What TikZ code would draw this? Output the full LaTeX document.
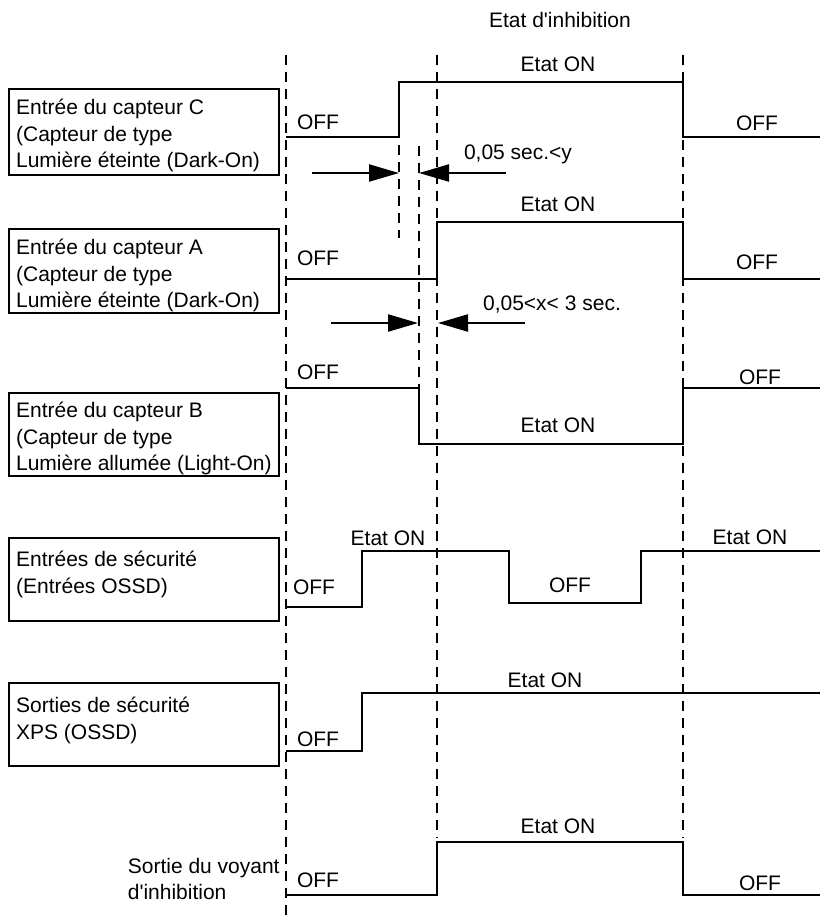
\documentclass[tikz,border=0pt]{standalone}
\usepackage{fontspec}
\setmainfont{Liberation Sans}[Ligatures=TeXOff]
\usetikzlibrary{arrows.meta}

\begin{document}
\begin{tikzpicture}[x=0.5pt,y=-0.5pt,
  every node/.style={font=\fontsize{10.5}{13.3}\selectfont,inner sep=0pt},
  sig/.style={line width=1.3pt,line join=miter},
  phase/.style={line width=1.3pt,dash pattern=on 5pt off 3.5pt},
  inbox/.style={draw,line width=1.3pt,rectangle,minimum width=135pt},
  boxtext/.style={align=left,anchor=north west},
  lbl/.style={text depth=0pt},
  gap/.style={line width=1.1pt,-{Triangle[length=15pt,width=8.5pt]}}]
\useasboundingbox (0,0) rectangle (820,918);
% phase limits
\draw[phase] (286,55) -- (286,918);
\draw[phase] (437,55) -- (437,838);
\draw[phase] (683,55) -- (683,838);
\draw[phase] (399,145) -- (399,238);
\draw[phase] (419,146) -- (419,388);
\node[lbl] (title) at (560,20) {Etat d'inhibition};
% sensor C
\node[inbox,minimum height=43pt] (boxC) at (144,132) {};
\node[boxtext] (txtC) at ([shift={(4pt,-5.5pt)}]boxC.north west) {Entrée du capteur C\\(Capteur de type\\Lumière éteinte (Dark-On)};
\draw[sig] (286,137) -- (399,137) -- (399,82) -- (683,82) -- (683,137) -- (820,137);
\node[lbl] (offC1) at (318,122) {OFF};
\node[lbl] (onC) at (558,64) {Etat ON};
\node[lbl] (offC2) at (757,123) {OFF};
\coordinate (yL) at (312,173); \coordinate (yLt) at (399,173);
\coordinate (yR) at (506,173); \coordinate (yRt) at (419,173);
\draw[gap] (yL) -- (yLt);
\draw[gap] (yR) -- (yRt);
\node[lbl] (ylbl) at (518,152) {0,05 sec.<y};
% sensor A
\node[inbox,minimum height=42pt] (boxA) at (144,271) {};
\node[boxtext] (txtA) at ([shift={(4pt,-5.5pt)}]boxA.north west) {Entrée du capteur A\\(Capteur de type\\Lumière éteinte (Dark-On)};
\draw[sig] (286,279) -- (437,279) -- (437,222) -- (683,222) -- (683,279) -- (820,279);
\node[lbl] (offA1) at (318,258) {OFF};
\node[lbl] (onA) at (558,204) {Etat ON};
\node[lbl] (offA2) at (757,262) {OFF};
\coordinate (xL) at (331,323); \coordinate (xLt) at (418,323);
\coordinate (xR) at (525,323); \coordinate (xRt) at (438,323);
\draw[gap] (xL) -- (xLt);
\draw[gap] (xR) -- (xRt);
\node[lbl] (xlbl) at (552,303) {0,05<x< 3 sec.};
% sensor B
\node[inbox,minimum height=41.5pt] (boxB) at (144,434.5) {};
\node[boxtext] (txtB) at ([shift={(4pt,-5pt)}]boxB.north west) {Entrée du capteur B\\(Capteur de type\\Lumière allumée (Light-On)};
\draw[sig] (286,388) -- (419,388) -- (419,444) -- (683,444) -- (683,388) -- (820,388);
\node[lbl] (offB1) at (318,372) {OFF};
\node[lbl] (onB) at (558,425) {Etat ON};
\node[lbl] (offB2) at (760,377) {OFF};
% safety inputs
\node[inbox,minimum height=41.5pt] (boxS) at (144,579.5) {};
\node[boxtext] (txtS) at ([shift={(4pt,-7pt)}]boxS.north west) {Entrées de sécurité\\(Entrées OSSD)};
\draw[sig] (286,607) -- (362,607) -- (362,551) -- (509,551) -- (509,603) -- (641,603) -- (641,551) -- (820,551);
\node[lbl] (offS1) at (314,587) {OFF};
\node[lbl] (onS1) at (388,538) {Etat ON};
\node[lbl] (offS2) at (570,585) {OFF};
\node[lbl] (onS2) at (750,537) {Etat ON};
% XPS outputs
\node[inbox,minimum height=41.5pt] (boxX) at (144,724.5) {};
\node[boxtext] (txtX) at ([shift={(4pt,-7.5pt)}]boxX.north west) {Sorties de sécurité\\XPS (OSSD)};
\draw[sig] (286,751) -- (362,751) -- (362,693) -- (820,693);
\node[lbl] (offX) at (318,739) {OFF};
\node[lbl] (onX) at (545,680) {Etat ON};
% muting lamp
\node[align=left,anchor=east] (txtV) at (280,879) {Sortie du voyant\\d'inhibition};
\draw[sig] (286,895) -- (437,895) -- (437,842) -- (683,842) -- (683,895) -- (820,895);
\node[lbl] (offV1) at (318,880) {OFF};
\node[lbl] (onV) at (558,826) {Etat ON};
\node[lbl] (offV2) at (760,883) {OFF};
\end{tikzpicture}
\end{document}
